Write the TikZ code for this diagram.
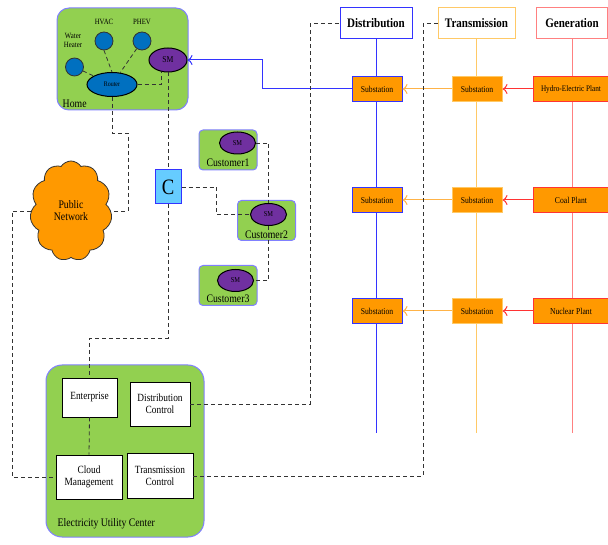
\documentclass[tikz,border=0pt]{standalone}
\usepackage{fontspec}
\setmainfont{Liberation Serif}[FakeStretch=0.85]
\usetikzlibrary{shapes.geometric,shapes.symbols,arrows.meta}
\definecolor{leaf}{HTML}{92D050}
\definecolor{edgeblue}{HTML}{3333FF}
\definecolor{rim}{HTML}{8080FF}
\definecolor{amber}{HTML}{FF9900}
\definecolor{paleamber}{HTML}{FFC966}
\definecolor{midamber}{HTML}{FFB347}
\definecolor{palered}{HTML}{FF8080}
\definecolor{hotred}{HTML}{FF3333}
\definecolor{routerblue}{HTML}{0070C0}
\definecolor{plum}{HTML}{7030A0}
\definecolor{sky}{HTML}{66CCFF}
\begin{document}
\begin{tikzpicture}[x=1pt,y=-1pt,font=\fontsize{11.5}{12}\selectfont,
  zone/.style={draw=rim,fill=leaf,line width=1pt,rounded corners=12pt,inner sep=0pt},
  house/.style={draw=rim,fill=leaf,line width=1pt,rounded corners=4pt,inner sep=0pt,minimum width=58pt,minimum height=40pt},
  unit/.style={draw=black,fill=white,line width=0.9pt,align=center,inner sep=0pt,font=\fontsize{11}{12}\selectfont},
  meter/.style={ellipse,draw=black,fill=plum,line width=1pt,inner sep=0pt,minimum width=36pt,minimum height=22pt,font=\fontsize{7.5}{8}\selectfont},
  device/.style={circle,draw=black!80,fill=routerblue,line width=0.8pt,minimum size=18pt,inner sep=0pt},
  head/.style={draw=#1,fill=white,line width=1pt,minimum height=31pt,inner sep=0pt,font=\bfseries\fontsize{13}{14}\selectfont},
  station/.style={draw=#1,fill=amber,line width=1pt,minimum height=25pt,inner sep=0pt,font=\fontsize{9}{10}\selectfont},
  flow/.style={-{To[length=5pt,width=10pt]},line width=1pt,#1},
  link/.style={dashed,dash pattern=on 4pt off 3pt,line width=0.8pt,black!80},
  lab/.style={inner sep=0pt,font=\fontsize{8}{9}\selectfont,align=center}]
\useasboundingbox (0,0) rectangle (608,545);

% power columns
\node[head=edgeblue,minimum width=72pt] (dist) at (376,23.5) {Distribution};
\node[head=paleamber,minimum width=77pt] (trans) at (476.5,23.5) {Transmission};
\node[head=palered,minimum width=71pt] (gen) at (572,23.5) {Generation};
\coordinate (dend) at (376,433);
\coordinate (tend) at (476.5,433);
\coordinate (gend) at (572,433);
\draw[edgeblue,line width=1pt] (dist.south) -- (dend);
\draw[paleamber,line width=1pt] (trans.south) -- (tend);
\draw[palered,line width=1pt] (gen.south) -- (gend);

\node[station=edgeblue,minimum width=50pt] (ds1) at (377,89) {Substation};
\node[station=paleamber,minimum width=50pt] (ts1) at (477,89) {Substation};
\node[station=hotred,minimum width=76pt,font=\fontsize{8.5}{9}\selectfont] (gp1) at (571,89) {Hydro-Electric Plant};
\node[station=edgeblue,minimum width=50pt] (ds2) at (377,200) {Substation};
\node[station=paleamber,minimum width=50pt] (ts2) at (477,200) {Substation};
\node[station=hotred,minimum width=76pt] (gp2) at (571,200) {Coal Plant};
\node[station=edgeblue,minimum width=50pt] (ds3) at (377,311) {Substation};
\node[station=paleamber,minimum width=50pt] (ts3) at (477,311) {Substation};
\node[station=hotred,minimum width=76pt] (gp3) at (571,311) {Nuclear Plant};
\foreach \i in {1,2,3}{
  \draw[flow=hotred] (gp\i.west) -- (ts\i.east);
  \draw[flow=midamber] (ts\i.west) -- (ds\i.east);
}

% home
\node[zone,minimum width=131pt,minimum height=102pt] (home) at (122.5,59) {};
\node[anchor=south west,inner sep=0pt] (homelab) at ([xshift=6pt,yshift=3pt]home.south west) {Home};
\node[device] (wh) at (74.5,67) {};
\node[device] (hvac) at (104,41) {};
\node[device] (phev) at (142,41) {};
\node[lab] (whlab) at (73,40) {Water\\Heater};
\node[lab] (hvaclab) at (104,22) {HVAC};
\node[lab] (phevlab) at (142,22) {PHEV};
\node[ellipse,draw=black,fill=routerblue,line width=1pt,inner sep=0pt,minimum width=50pt,minimum height=24pt,font=\fontsize{7}{8}\selectfont] (router) at (112,84.5) {Router};
\node[meter,minimum width=38pt,minimum height=24pt,font=\fontsize{9}{10}\selectfont] (hsm) at (168,60) {SM};
\draw[link] (wh) -- (router);
\draw[link] (hvac.south) -- (router.north);
\draw[link] (phev) -- (router);
\draw[link] (router.east) -| (hsm.240);
\coordinate (bend) at (262,89);
\draw[flow=edgeblue] (ds1.west) -- (bend) |- (hsm.east);

% public network
\node[cloud,cloud puffs=11,cloud puff arc=115,aspect=0.85,draw=black!80,fill=amber,line width=0.8pt,minimum width=82pt,minimum height=100pt,align=center,inner sep=0pt] (net) at (71,211) {Public\\Network};
\coordinate (rt) at (128,133);
\draw[link] (router.south) |- (rt) |- (net.east);

% concentrator and customers
\node[draw=edgeblue,fill=sky,line width=1pt,minimum width=26pt,minimum height=34pt,inner sep=0pt,font=\fontsize{22}{24}\selectfont] (conc) at (168,187) {C};
\draw[link] (hsm.south) -- (conc.north);
\node[house] (cu1) at (228,150) {};
\node[house] (cu2) at (266.5,220.5) {};
\node[house] (cu3) at (228,285.5) {};
\node[meter] (sm1) at (237.5,143) {SM};
\node[meter] (sm2) at (268.5,214.5) {SM};
\node[meter] (sm3) at (235.5,280.5) {SM};
\node[inner sep=0pt] (cu1lab) at (228,163) {Customer1};
\node[inner sep=0pt] (cu2lab) at (266.5,235) {Customer2};
\node[inner sep=0pt] (cu3lab) at (228,299) {Customer3};
\coordinate (ck) at (216,214.5);
\draw[link] (conc.east) -| (ck) -- (sm2.west);
\draw[link] (sm1.east) -| (sm2.north);
\draw[link] (sm2.south) |- (sm3.east);

% utility center
\node[zone,minimum width=158pt,minimum height=172pt,rounded corners=16pt] (euc) at (125,451) {};
\node[anchor=south west,inner sep=0pt] (euclab) at ([xshift=12pt,yshift=8pt]euc.south west) {Electricity Utility Center};
\node[unit,minimum width=55pt,minimum height=39pt] (ent) at (89.5,397.5) {Enterprise};
\node[unit,minimum width=60pt,minimum height=44pt] (dctl) at (160,404) {Distribution\\Control};
\node[unit,minimum width=66pt,minimum height=44pt] (cm) at (89,477) {Cloud\\Management};
\node[unit,minimum width=66pt,minimum height=45pt] (tctl) at (160,476) {Transmission\\Control};
\coordinate (cd) at (168,338);
\draw[link] (conc.south) -- (cd) -| (ent.north);
\draw[link] (ent.south) -- (cm.north);
\coordinate (cl) at (12,477);
\draw[link] (net.west) -| (cl) -- (cm.west);
\coordinate (dk) at (310,23.5);
\draw[link] (dctl.east) -| (dk) -- (dist.west);
\coordinate (tk) at (423,23.5);
\draw[link] (tctl.east) -| (tk) -- (trans.west);
\end{tikzpicture}
\end{document}
